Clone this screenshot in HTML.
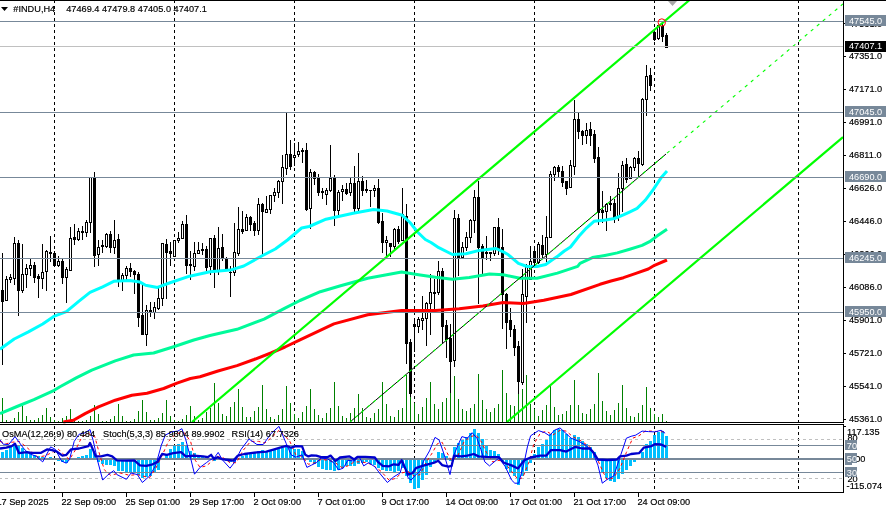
<!DOCTYPE html>
<html><head><meta charset="utf-8"><title>#INDU,H4</title>
<style>html,body{margin:0;padding:0;background:#fff;overflow:hidden}svg{display:block}</style>
</head><body>
<svg width="886" height="508" viewBox="0 0 886 508">
<rect x="0" y="0" width="886" height="508" fill="#fff"/>
<g shape-rendering="crispEdges">
<line x1="54.5" y1="0" x2="54.5" y2="422" stroke="#000" stroke-width="1" stroke-dasharray="3 3"/>
<line x1="54.5" y1="426" x2="54.5" y2="492" stroke="#000" stroke-width="1" stroke-dasharray="3 3"/>
<line x1="174.5" y1="0" x2="174.5" y2="422" stroke="#000" stroke-width="1" stroke-dasharray="3 3"/>
<line x1="174.5" y1="426" x2="174.5" y2="492" stroke="#000" stroke-width="1" stroke-dasharray="3 3"/>
<line x1="294.5" y1="0" x2="294.5" y2="422" stroke="#000" stroke-width="1" stroke-dasharray="3 3"/>
<line x1="294.5" y1="426" x2="294.5" y2="492" stroke="#000" stroke-width="1" stroke-dasharray="3 3"/>
<line x1="414.5" y1="0" x2="414.5" y2="422" stroke="#000" stroke-width="1" stroke-dasharray="3 3"/>
<line x1="414.5" y1="426" x2="414.5" y2="492" stroke="#000" stroke-width="1" stroke-dasharray="3 3"/>
<line x1="534.5" y1="0" x2="534.5" y2="422" stroke="#000" stroke-width="1" stroke-dasharray="3 3"/>
<line x1="534.5" y1="426" x2="534.5" y2="492" stroke="#000" stroke-width="1" stroke-dasharray="3 3"/>
<line x1="654.5" y1="0" x2="654.5" y2="422" stroke="#000" stroke-width="1" stroke-dasharray="3 3"/>
<line x1="654.5" y1="426" x2="654.5" y2="492" stroke="#000" stroke-width="1" stroke-dasharray="3 3"/>
<line x1="798.5" y1="0" x2="798.5" y2="422" stroke="#000" stroke-width="1" stroke-dasharray="3 3"/>
<line x1="798.5" y1="426" x2="798.5" y2="492" stroke="#000" stroke-width="1" stroke-dasharray="3 3"/>
</g>
<g shape-rendering="crispEdges">
<rect x="2" y="253" width="1" height="112" fill="#000"/>
<rect x="1" y="290" width="3" height="12" fill="#000"/>
<rect x="6" y="276" width="1" height="25" fill="#000"/>
<rect x="5" y="279" width="3" height="22" fill="#000"/>
<rect x="6" y="280" width="1" height="20" fill="#fff"/>
<rect x="10" y="274" width="1" height="9" fill="#000"/>
<rect x="9" y="277" width="3" height="3" fill="#000"/>
<rect x="10" y="278" width="1" height="1" fill="#fff"/>
<rect x="14" y="237" width="1" height="48" fill="#000"/>
<rect x="13" y="243" width="3" height="36" fill="#000"/>
<rect x="14" y="244" width="1" height="34" fill="#fff"/>
<rect x="18" y="240" width="1" height="76" fill="#000"/>
<rect x="17" y="243" width="3" height="48" fill="#000"/>
<rect x="22" y="244" width="1" height="49" fill="#000"/>
<rect x="21" y="274" width="3" height="17" fill="#000"/>
<rect x="22" y="275" width="1" height="15" fill="#fff"/>
<rect x="26" y="264" width="1" height="24" fill="#000"/>
<rect x="25" y="268" width="3" height="7" fill="#000"/>
<rect x="26" y="269" width="1" height="5" fill="#fff"/>
<rect x="30" y="259" width="1" height="17" fill="#000"/>
<rect x="29" y="265" width="3" height="4" fill="#000"/>
<rect x="30" y="266" width="1" height="2" fill="#fff"/>
<rect x="34" y="262" width="1" height="21" fill="#000"/>
<rect x="33" y="265" width="3" height="13" fill="#000"/>
<rect x="38" y="274" width="1" height="24" fill="#000"/>
<rect x="37" y="276" width="3" height="3" fill="#000"/>
<rect x="42" y="244" width="1" height="45" fill="#000"/>
<rect x="41" y="272" width="3" height="7" fill="#000"/>
<rect x="42" y="273" width="1" height="5" fill="#fff"/>
<rect x="46" y="250" width="1" height="41" fill="#000"/>
<rect x="45" y="251" width="3" height="21" fill="#000"/>
<rect x="46" y="252" width="1" height="19" fill="#fff"/>
<rect x="50" y="236" width="1" height="26" fill="#000"/>
<rect x="49" y="252" width="3" height="2" fill="#000"/>
<rect x="54" y="251" width="1" height="16" fill="#000"/>
<rect x="53" y="253" width="3" height="13" fill="#000"/>
<rect x="58" y="256" width="1" height="11" fill="#000"/>
<rect x="57" y="261" width="3" height="5" fill="#000"/>
<rect x="58" y="262" width="1" height="3" fill="#fff"/>
<rect x="62" y="259" width="1" height="25" fill="#000"/>
<rect x="61" y="261" width="3" height="17" fill="#000"/>
<rect x="66" y="267" width="1" height="36" fill="#000"/>
<rect x="65" y="269" width="3" height="9" fill="#000"/>
<rect x="66" y="270" width="1" height="7" fill="#fff"/>
<rect x="70" y="227" width="1" height="44" fill="#000"/>
<rect x="69" y="238" width="3" height="33" fill="#000"/>
<rect x="70" y="239" width="1" height="31" fill="#fff"/>
<rect x="74" y="224" width="1" height="21" fill="#000"/>
<rect x="73" y="237" width="3" height="3" fill="#000"/>
<rect x="78" y="228" width="1" height="13" fill="#000"/>
<rect x="77" y="231" width="3" height="9" fill="#000"/>
<rect x="78" y="232" width="1" height="7" fill="#fff"/>
<rect x="82" y="226" width="1" height="14" fill="#000"/>
<rect x="81" y="231" width="3" height="2" fill="#000"/>
<rect x="86" y="220" width="1" height="17" fill="#000"/>
<rect x="85" y="222" width="3" height="11" fill="#000"/>
<rect x="86" y="223" width="1" height="9" fill="#fff"/>
<rect x="90" y="177" width="1" height="56" fill="#000"/>
<rect x="89" y="177" width="3" height="46" fill="#000"/>
<rect x="90" y="178" width="1" height="44" fill="#fff"/>
<rect x="94" y="172" width="1" height="95" fill="#000"/>
<rect x="93" y="177" width="3" height="79" fill="#000"/>
<rect x="98" y="240" width="1" height="26" fill="#000"/>
<rect x="97" y="247" width="3" height="8" fill="#000"/>
<rect x="98" y="248" width="1" height="6" fill="#fff"/>
<rect x="102" y="240" width="1" height="13" fill="#000"/>
<rect x="101" y="245" width="3" height="2" fill="#000"/>
<rect x="106" y="233" width="1" height="15" fill="#000"/>
<rect x="105" y="234" width="3" height="13" fill="#000"/>
<rect x="106" y="235" width="1" height="11" fill="#fff"/>
<rect x="110" y="231" width="1" height="22" fill="#000"/>
<rect x="109" y="234" width="3" height="14" fill="#000"/>
<rect x="114" y="220" width="1" height="34" fill="#000"/>
<rect x="113" y="240" width="3" height="8" fill="#000"/>
<rect x="114" y="241" width="1" height="6" fill="#fff"/>
<rect x="118" y="234" width="1" height="53" fill="#000"/>
<rect x="117" y="239" width="3" height="42" fill="#000"/>
<rect x="122" y="273" width="1" height="18" fill="#000"/>
<rect x="121" y="275" width="3" height="6" fill="#000"/>
<rect x="122" y="276" width="1" height="4" fill="#fff"/>
<rect x="126" y="266" width="1" height="14" fill="#000"/>
<rect x="125" y="268" width="3" height="8" fill="#000"/>
<rect x="126" y="269" width="1" height="6" fill="#fff"/>
<rect x="130" y="263" width="1" height="14" fill="#000"/>
<rect x="129" y="268" width="3" height="4" fill="#000"/>
<rect x="134" y="270" width="1" height="24" fill="#000"/>
<rect x="133" y="271" width="3" height="4" fill="#000"/>
<rect x="138" y="272" width="1" height="55" fill="#000"/>
<rect x="137" y="274" width="3" height="44" fill="#000"/>
<rect x="142" y="285" width="1" height="50" fill="#000"/>
<rect x="141" y="315" width="3" height="20" fill="#000"/>
<rect x="146" y="305" width="1" height="41" fill="#000"/>
<rect x="145" y="310" width="3" height="25" fill="#000"/>
<rect x="146" y="311" width="1" height="23" fill="#fff"/>
<rect x="150" y="302" width="1" height="15" fill="#000"/>
<rect x="149" y="310" width="3" height="3" fill="#000"/>
<rect x="154" y="302" width="1" height="17" fill="#000"/>
<rect x="153" y="307" width="3" height="6" fill="#000"/>
<rect x="154" y="308" width="1" height="4" fill="#fff"/>
<rect x="158" y="288" width="1" height="22" fill="#000"/>
<rect x="157" y="298" width="3" height="11" fill="#000"/>
<rect x="158" y="299" width="1" height="9" fill="#fff"/>
<rect x="162" y="243" width="1" height="63" fill="#000"/>
<rect x="161" y="243" width="3" height="56" fill="#000"/>
<rect x="162" y="244" width="1" height="54" fill="#fff"/>
<rect x="166" y="239" width="1" height="60" fill="#000"/>
<rect x="165" y="244" width="3" height="9" fill="#000"/>
<rect x="170" y="242" width="1" height="24" fill="#000"/>
<rect x="169" y="251" width="3" height="3" fill="#000"/>
<rect x="174" y="240" width="1" height="17" fill="#000"/>
<rect x="173" y="240" width="3" height="17" fill="#000"/>
<rect x="174" y="241" width="1" height="15" fill="#fff"/>
<rect x="178" y="232" width="1" height="11" fill="#000"/>
<rect x="177" y="238" width="3" height="3" fill="#000"/>
<rect x="178" y="239" width="1" height="1" fill="#fff"/>
<rect x="182" y="221" width="1" height="18" fill="#000"/>
<rect x="181" y="224" width="3" height="15" fill="#000"/>
<rect x="182" y="225" width="1" height="13" fill="#fff"/>
<rect x="186" y="215" width="1" height="59" fill="#000"/>
<rect x="185" y="224" width="3" height="42" fill="#000"/>
<rect x="190" y="251" width="1" height="29" fill="#000"/>
<rect x="189" y="264" width="3" height="2" fill="#000"/>
<rect x="194" y="242" width="1" height="29" fill="#000"/>
<rect x="193" y="253" width="3" height="14" fill="#000"/>
<rect x="194" y="254" width="1" height="12" fill="#fff"/>
<rect x="198" y="242" width="1" height="12" fill="#000"/>
<rect x="197" y="250" width="3" height="4" fill="#000"/>
<rect x="198" y="251" width="1" height="2" fill="#fff"/>
<rect x="202" y="243" width="1" height="12" fill="#000"/>
<rect x="201" y="249" width="3" height="2" fill="#000"/>
<rect x="206" y="246" width="1" height="25" fill="#000"/>
<rect x="205" y="249" width="3" height="19" fill="#000"/>
<rect x="210" y="238" width="1" height="37" fill="#000"/>
<rect x="209" y="238" width="3" height="29" fill="#000"/>
<rect x="210" y="239" width="1" height="27" fill="#fff"/>
<rect x="214" y="235" width="1" height="53" fill="#000"/>
<rect x="213" y="238" width="3" height="33" fill="#000"/>
<rect x="218" y="227" width="1" height="48" fill="#000"/>
<rect x="217" y="248" width="3" height="23" fill="#000"/>
<rect x="218" y="249" width="1" height="21" fill="#fff"/>
<rect x="222" y="234" width="1" height="27" fill="#000"/>
<rect x="221" y="247" width="3" height="12" fill="#000"/>
<rect x="226" y="257" width="1" height="13" fill="#000"/>
<rect x="225" y="258" width="3" height="12" fill="#000"/>
<rect x="230" y="266" width="1" height="31" fill="#000"/>
<rect x="229" y="272" width="3" height="1" fill="#000"/>
<rect x="234" y="223" width="1" height="53" fill="#000"/>
<rect x="233" y="252" width="3" height="21" fill="#000"/>
<rect x="234" y="253" width="1" height="19" fill="#fff"/>
<rect x="238" y="207" width="1" height="49" fill="#000"/>
<rect x="237" y="229" width="3" height="25" fill="#000"/>
<rect x="238" y="230" width="1" height="23" fill="#fff"/>
<rect x="242" y="211" width="1" height="23" fill="#000"/>
<rect x="241" y="229" width="3" height="3" fill="#000"/>
<rect x="246" y="214" width="1" height="17" fill="#000"/>
<rect x="245" y="217" width="3" height="14" fill="#000"/>
<rect x="246" y="218" width="1" height="12" fill="#fff"/>
<rect x="250" y="216" width="1" height="15" fill="#000"/>
<rect x="249" y="217" width="3" height="8" fill="#000"/>
<rect x="254" y="221" width="1" height="15" fill="#000"/>
<rect x="253" y="223" width="3" height="8" fill="#000"/>
<rect x="258" y="198" width="1" height="37" fill="#000"/>
<rect x="257" y="204" width="3" height="27" fill="#000"/>
<rect x="258" y="205" width="1" height="25" fill="#fff"/>
<rect x="262" y="203" width="1" height="53" fill="#000"/>
<rect x="261" y="204" width="3" height="8" fill="#000"/>
<rect x="266" y="196" width="1" height="17" fill="#000"/>
<rect x="265" y="209" width="3" height="4" fill="#000"/>
<rect x="266" y="210" width="1" height="2" fill="#fff"/>
<rect x="270" y="195" width="1" height="19" fill="#000"/>
<rect x="269" y="195" width="3" height="15" fill="#000"/>
<rect x="270" y="196" width="1" height="13" fill="#fff"/>
<rect x="274" y="188" width="1" height="14" fill="#000"/>
<rect x="273" y="192" width="3" height="4" fill="#000"/>
<rect x="274" y="193" width="1" height="2" fill="#fff"/>
<rect x="278" y="180" width="1" height="18" fill="#000"/>
<rect x="277" y="181" width="3" height="12" fill="#000"/>
<rect x="278" y="182" width="1" height="10" fill="#fff"/>
<rect x="282" y="155" width="1" height="49" fill="#000"/>
<rect x="281" y="167" width="3" height="15" fill="#000"/>
<rect x="282" y="168" width="1" height="13" fill="#fff"/>
<rect x="286" y="113" width="1" height="62" fill="#000"/>
<rect x="285" y="154" width="3" height="15" fill="#000"/>
<rect x="286" y="155" width="1" height="13" fill="#fff"/>
<rect x="290" y="140" width="1" height="30" fill="#000"/>
<rect x="289" y="154" width="3" height="13" fill="#000"/>
<rect x="294" y="143" width="1" height="23" fill="#000"/>
<rect x="293" y="155" width="3" height="3" fill="#000"/>
<rect x="294" y="156" width="1" height="1" fill="#fff"/>
<rect x="298" y="142" width="1" height="15" fill="#000"/>
<rect x="297" y="151" width="3" height="4" fill="#000"/>
<rect x="298" y="152" width="1" height="2" fill="#fff"/>
<rect x="302" y="148" width="1" height="15" fill="#000"/>
<rect x="301" y="150" width="3" height="2" fill="#000"/>
<rect x="306" y="143" width="1" height="68" fill="#000"/>
<rect x="305" y="150" width="3" height="60" fill="#000"/>
<rect x="310" y="169" width="1" height="60" fill="#000"/>
<rect x="309" y="172" width="3" height="37" fill="#000"/>
<rect x="310" y="173" width="1" height="35" fill="#fff"/>
<rect x="314" y="171" width="1" height="14" fill="#000"/>
<rect x="313" y="172" width="3" height="7" fill="#000"/>
<rect x="318" y="174" width="1" height="22" fill="#000"/>
<rect x="317" y="178" width="3" height="15" fill="#000"/>
<rect x="322" y="188" width="1" height="11" fill="#000"/>
<rect x="321" y="191" width="3" height="2" fill="#000"/>
<rect x="326" y="188" width="1" height="17" fill="#000"/>
<rect x="325" y="190" width="3" height="5" fill="#000"/>
<rect x="326" y="191" width="1" height="3" fill="#fff"/>
<rect x="330" y="145" width="1" height="47" fill="#000"/>
<rect x="329" y="178" width="3" height="13" fill="#000"/>
<rect x="330" y="179" width="1" height="11" fill="#fff"/>
<rect x="334" y="175" width="1" height="51" fill="#000"/>
<rect x="333" y="178" width="3" height="33" fill="#000"/>
<rect x="338" y="190" width="1" height="27" fill="#000"/>
<rect x="337" y="192" width="3" height="19" fill="#000"/>
<rect x="338" y="193" width="1" height="17" fill="#fff"/>
<rect x="342" y="185" width="1" height="16" fill="#000"/>
<rect x="341" y="189" width="3" height="3" fill="#000"/>
<rect x="342" y="190" width="1" height="1" fill="#fff"/>
<rect x="346" y="183" width="1" height="12" fill="#000"/>
<rect x="345" y="189" width="3" height="5" fill="#000"/>
<rect x="350" y="178" width="1" height="18" fill="#000"/>
<rect x="349" y="183" width="3" height="10" fill="#000"/>
<rect x="350" y="184" width="1" height="8" fill="#fff"/>
<rect x="354" y="166" width="1" height="46" fill="#000"/>
<rect x="353" y="183" width="3" height="26" fill="#000"/>
<rect x="358" y="153" width="1" height="58" fill="#000"/>
<rect x="357" y="181" width="3" height="28" fill="#000"/>
<rect x="358" y="182" width="1" height="26" fill="#fff"/>
<rect x="362" y="176" width="1" height="20" fill="#000"/>
<rect x="361" y="181" width="3" height="10" fill="#000"/>
<rect x="366" y="180" width="1" height="13" fill="#000"/>
<rect x="365" y="189" width="3" height="2" fill="#000"/>
<rect x="370" y="190" width="1" height="17" fill="#000"/>
<rect x="369" y="190" width="3" height="1" fill="#000"/>
<rect x="374" y="185" width="1" height="12" fill="#000"/>
<rect x="373" y="188" width="3" height="3" fill="#000"/>
<rect x="374" y="189" width="1" height="1" fill="#fff"/>
<rect x="378" y="179" width="1" height="45" fill="#000"/>
<rect x="377" y="188" width="3" height="35" fill="#000"/>
<rect x="382" y="213" width="1" height="40" fill="#000"/>
<rect x="381" y="221" width="3" height="22" fill="#000"/>
<rect x="386" y="236" width="1" height="23" fill="#000"/>
<rect x="385" y="240" width="3" height="3" fill="#000"/>
<rect x="386" y="241" width="1" height="1" fill="#fff"/>
<rect x="390" y="243" width="1" height="14" fill="#000"/>
<rect x="389" y="243" width="3" height="4" fill="#000"/>
<rect x="394" y="228" width="1" height="23" fill="#000"/>
<rect x="393" y="229" width="3" height="18" fill="#000"/>
<rect x="394" y="230" width="1" height="16" fill="#fff"/>
<rect x="398" y="226" width="1" height="18" fill="#000"/>
<rect x="397" y="229" width="3" height="13" fill="#000"/>
<rect x="402" y="188" width="1" height="53" fill="#000"/>
<rect x="401" y="214" width="3" height="27" fill="#000"/>
<rect x="402" y="215" width="1" height="25" fill="#fff"/>
<rect x="406" y="204" width="1" height="160" fill="#000"/>
<rect x="405" y="216" width="3" height="128" fill="#000"/>
<rect x="410" y="339" width="1" height="60" fill="#000"/>
<rect x="409" y="342" width="3" height="52" fill="#000"/>
<rect x="414" y="319" width="1" height="33" fill="#000"/>
<rect x="413" y="324" width="3" height="3" fill="#000"/>
<rect x="418" y="317" width="1" height="16" fill="#000"/>
<rect x="417" y="319" width="3" height="8" fill="#000"/>
<rect x="418" y="320" width="1" height="6" fill="#fff"/>
<rect x="422" y="296" width="1" height="34" fill="#000"/>
<rect x="421" y="318" width="3" height="3" fill="#000"/>
<rect x="422" y="319" width="1" height="1" fill="#fff"/>
<rect x="426" y="302" width="1" height="44" fill="#000"/>
<rect x="425" y="303" width="3" height="16" fill="#000"/>
<rect x="426" y="304" width="1" height="14" fill="#fff"/>
<rect x="430" y="274" width="1" height="61" fill="#000"/>
<rect x="429" y="292" width="3" height="12" fill="#000"/>
<rect x="430" y="293" width="1" height="10" fill="#fff"/>
<rect x="434" y="279" width="1" height="32" fill="#000"/>
<rect x="433" y="292" width="3" height="2" fill="#000"/>
<rect x="438" y="261" width="1" height="34" fill="#000"/>
<rect x="437" y="271" width="3" height="22" fill="#000"/>
<rect x="438" y="272" width="1" height="20" fill="#fff"/>
<rect x="442" y="268" width="1" height="75" fill="#000"/>
<rect x="441" y="271" width="3" height="56" fill="#000"/>
<rect x="446" y="320" width="1" height="38" fill="#000"/>
<rect x="445" y="325" width="3" height="15" fill="#000"/>
<rect x="450" y="324" width="1" height="70" fill="#000"/>
<rect x="449" y="338" width="3" height="24" fill="#000"/>
<rect x="454" y="210" width="1" height="157" fill="#000"/>
<rect x="453" y="218" width="3" height="143" fill="#000"/>
<rect x="454" y="219" width="1" height="141" fill="#fff"/>
<rect x="458" y="214" width="1" height="62" fill="#000"/>
<rect x="457" y="218" width="3" height="40" fill="#000"/>
<rect x="462" y="242" width="1" height="16" fill="#000"/>
<rect x="461" y="247" width="3" height="11" fill="#000"/>
<rect x="462" y="248" width="1" height="9" fill="#fff"/>
<rect x="466" y="232" width="1" height="19" fill="#000"/>
<rect x="465" y="237" width="3" height="11" fill="#000"/>
<rect x="466" y="238" width="1" height="9" fill="#fff"/>
<rect x="470" y="219" width="1" height="24" fill="#000"/>
<rect x="469" y="220" width="3" height="18" fill="#000"/>
<rect x="470" y="221" width="1" height="16" fill="#fff"/>
<rect x="474" y="190" width="1" height="43" fill="#000"/>
<rect x="473" y="197" width="3" height="24" fill="#000"/>
<rect x="474" y="198" width="1" height="22" fill="#fff"/>
<rect x="478" y="181" width="1" height="123" fill="#000"/>
<rect x="477" y="197" width="3" height="51" fill="#000"/>
<rect x="482" y="244" width="1" height="30" fill="#000"/>
<rect x="481" y="246" width="3" height="13" fill="#000"/>
<rect x="486" y="236" width="1" height="24" fill="#000"/>
<rect x="485" y="252" width="3" height="2" fill="#000"/>
<rect x="490" y="252" width="1" height="9" fill="#000"/>
<rect x="489" y="252" width="3" height="2" fill="#000"/>
<rect x="494" y="227" width="1" height="29" fill="#000"/>
<rect x="493" y="227" width="3" height="27" fill="#000"/>
<rect x="494" y="228" width="1" height="25" fill="#fff"/>
<rect x="498" y="218" width="1" height="37" fill="#000"/>
<rect x="497" y="227" width="3" height="22" fill="#000"/>
<rect x="502" y="229" width="1" height="100" fill="#000"/>
<rect x="501" y="247" width="3" height="48" fill="#000"/>
<rect x="506" y="293" width="1" height="56" fill="#000"/>
<rect x="505" y="294" width="3" height="29" fill="#000"/>
<rect x="510" y="308" width="1" height="29" fill="#000"/>
<rect x="509" y="320" width="3" height="10" fill="#000"/>
<rect x="514" y="325" width="1" height="31" fill="#000"/>
<rect x="513" y="329" width="3" height="19" fill="#000"/>
<rect x="518" y="341" width="1" height="53" fill="#000"/>
<rect x="517" y="346" width="3" height="36" fill="#000"/>
<rect x="522" y="269" width="1" height="116" fill="#000"/>
<rect x="521" y="294" width="3" height="89" fill="#000"/>
<rect x="522" y="295" width="1" height="87" fill="#fff"/>
<rect x="526" y="264" width="1" height="59" fill="#000"/>
<rect x="525" y="265" width="3" height="32" fill="#000"/>
<rect x="526" y="266" width="1" height="30" fill="#fff"/>
<rect x="530" y="246" width="1" height="34" fill="#000"/>
<rect x="529" y="261" width="3" height="19" fill="#000"/>
<rect x="530" y="262" width="1" height="17" fill="#fff"/>
<rect x="534" y="246" width="1" height="19" fill="#000"/>
<rect x="533" y="251" width="3" height="12" fill="#000"/>
<rect x="538" y="242" width="1" height="22" fill="#000"/>
<rect x="537" y="244" width="3" height="19" fill="#000"/>
<rect x="538" y="245" width="1" height="17" fill="#fff"/>
<rect x="542" y="235" width="1" height="24" fill="#000"/>
<rect x="541" y="245" width="3" height="10" fill="#000"/>
<rect x="546" y="216" width="1" height="46" fill="#000"/>
<rect x="545" y="237" width="3" height="18" fill="#000"/>
<rect x="546" y="238" width="1" height="16" fill="#fff"/>
<rect x="550" y="171" width="1" height="67" fill="#000"/>
<rect x="549" y="174" width="3" height="64" fill="#000"/>
<rect x="550" y="175" width="1" height="62" fill="#fff"/>
<rect x="554" y="166" width="1" height="15" fill="#000"/>
<rect x="553" y="167" width="3" height="8" fill="#000"/>
<rect x="554" y="168" width="1" height="6" fill="#fff"/>
<rect x="558" y="165" width="1" height="12" fill="#000"/>
<rect x="557" y="167" width="3" height="5" fill="#000"/>
<rect x="562" y="166" width="1" height="21" fill="#000"/>
<rect x="561" y="171" width="3" height="12" fill="#000"/>
<rect x="566" y="181" width="1" height="14" fill="#000"/>
<rect x="565" y="181" width="3" height="8" fill="#000"/>
<rect x="570" y="160" width="1" height="28" fill="#000"/>
<rect x="569" y="165" width="3" height="23" fill="#000"/>
<rect x="570" y="166" width="1" height="21" fill="#fff"/>
<rect x="574" y="100" width="1" height="75" fill="#000"/>
<rect x="573" y="119" width="3" height="48" fill="#000"/>
<rect x="574" y="120" width="1" height="46" fill="#fff"/>
<rect x="578" y="113" width="1" height="26" fill="#000"/>
<rect x="577" y="119" width="3" height="13" fill="#000"/>
<rect x="582" y="130" width="1" height="15" fill="#000"/>
<rect x="581" y="131" width="3" height="5" fill="#000"/>
<rect x="586" y="123" width="1" height="21" fill="#000"/>
<rect x="585" y="130" width="3" height="6" fill="#000"/>
<rect x="586" y="131" width="1" height="4" fill="#fff"/>
<rect x="590" y="122" width="1" height="24" fill="#000"/>
<rect x="589" y="129" width="3" height="7" fill="#000"/>
<rect x="594" y="130" width="1" height="33" fill="#000"/>
<rect x="593" y="134" width="3" height="25" fill="#000"/>
<rect x="598" y="147" width="1" height="78" fill="#000"/>
<rect x="597" y="157" width="3" height="56" fill="#000"/>
<rect x="602" y="191" width="1" height="32" fill="#000"/>
<rect x="601" y="210" width="3" height="3" fill="#000"/>
<rect x="606" y="203" width="1" height="28" fill="#000"/>
<rect x="605" y="204" width="3" height="8" fill="#000"/>
<rect x="606" y="205" width="1" height="6" fill="#fff"/>
<rect x="610" y="196" width="1" height="15" fill="#000"/>
<rect x="609" y="203" width="3" height="2" fill="#000"/>
<rect x="614" y="199" width="1" height="24" fill="#000"/>
<rect x="613" y="203" width="3" height="15" fill="#000"/>
<rect x="618" y="173" width="1" height="48" fill="#000"/>
<rect x="617" y="188" width="3" height="30" fill="#000"/>
<rect x="618" y="189" width="1" height="28" fill="#fff"/>
<rect x="622" y="161" width="1" height="51" fill="#000"/>
<rect x="621" y="165" width="3" height="24" fill="#000"/>
<rect x="622" y="166" width="1" height="22" fill="#fff"/>
<rect x="626" y="158" width="1" height="25" fill="#000"/>
<rect x="625" y="164" width="3" height="16" fill="#000"/>
<rect x="630" y="166" width="1" height="13" fill="#000"/>
<rect x="629" y="167" width="3" height="12" fill="#000"/>
<rect x="630" y="168" width="1" height="10" fill="#fff"/>
<rect x="634" y="157" width="1" height="14" fill="#000"/>
<rect x="633" y="158" width="3" height="10" fill="#000"/>
<rect x="634" y="159" width="1" height="8" fill="#fff"/>
<rect x="638" y="151" width="1" height="26" fill="#000"/>
<rect x="637" y="158" width="3" height="6" fill="#000"/>
<rect x="642" y="98" width="1" height="68" fill="#000"/>
<rect x="641" y="99" width="3" height="66" fill="#000"/>
<rect x="642" y="100" width="1" height="64" fill="#fff"/>
<rect x="646" y="65" width="1" height="51" fill="#000"/>
<rect x="645" y="76" width="3" height="24" fill="#000"/>
<rect x="646" y="77" width="1" height="22" fill="#fff"/>
<rect x="650" y="68" width="1" height="23" fill="#000"/>
<rect x="649" y="75" width="3" height="11" fill="#000"/>
<rect x="654" y="29" width="1" height="12" fill="#000"/>
<rect x="653" y="32" width="3" height="8" fill="#000"/>
<rect x="658" y="25" width="1" height="15" fill="#000"/>
<rect x="657" y="25" width="3" height="14" fill="#000"/>
<rect x="658" y="26" width="1" height="12" fill="#fff"/>
<rect x="662" y="22" width="1" height="20" fill="#000"/>
<rect x="661" y="26" width="3" height="11" fill="#000"/>
<rect x="666" y="33" width="1" height="15" fill="#000"/>
<rect x="665" y="35" width="3" height="13" fill="#000"/>
</g>
<g shape-rendering="crispEdges">
<rect x="2" y="398" width="1" height="24" fill="#008000"/>
<rect x="6" y="420" width="1" height="2" fill="#008000"/>
<rect x="10" y="421" width="1" height="1" fill="#008000"/>
<rect x="14" y="418" width="1" height="4" fill="#008000"/>
<rect x="18" y="412" width="1" height="10" fill="#008000"/>
<rect x="22" y="406" width="1" height="16" fill="#008000"/>
<rect x="26" y="416" width="1" height="6" fill="#008000"/>
<rect x="30" y="420" width="1" height="2" fill="#008000"/>
<rect x="34" y="420" width="1" height="2" fill="#008000"/>
<rect x="38" y="418" width="1" height="4" fill="#008000"/>
<rect x="42" y="415" width="1" height="7" fill="#008000"/>
<rect x="46" y="408" width="1" height="14" fill="#008000"/>
<rect x="50" y="417" width="1" height="5" fill="#008000"/>
<rect x="54" y="420" width="1" height="2" fill="#008000"/>
<rect x="58" y="421" width="1" height="1" fill="#008000"/>
<rect x="62" y="418" width="1" height="4" fill="#008000"/>
<rect x="66" y="416" width="1" height="6" fill="#008000"/>
<rect x="70" y="409" width="1" height="13" fill="#008000"/>
<rect x="74" y="420" width="1" height="2" fill="#008000"/>
<rect x="78" y="421" width="1" height="1" fill="#008000"/>
<rect x="82" y="421" width="1" height="1" fill="#008000"/>
<rect x="86" y="420" width="1" height="2" fill="#008000"/>
<rect x="90" y="416" width="1" height="6" fill="#008000"/>
<rect x="94" y="405" width="1" height="17" fill="#008000"/>
<rect x="98" y="414" width="1" height="8" fill="#008000"/>
<rect x="102" y="421" width="1" height="1" fill="#008000"/>
<rect x="106" y="421" width="1" height="1" fill="#008000"/>
<rect x="110" y="419" width="1" height="3" fill="#008000"/>
<rect x="114" y="416" width="1" height="6" fill="#008000"/>
<rect x="118" y="404" width="1" height="18" fill="#008000"/>
<rect x="122" y="416" width="1" height="6" fill="#008000"/>
<rect x="126" y="421" width="1" height="1" fill="#008000"/>
<rect x="130" y="421" width="1" height="1" fill="#008000"/>
<rect x="134" y="419" width="1" height="3" fill="#008000"/>
<rect x="138" y="411" width="1" height="11" fill="#008000"/>
<rect x="142" y="400" width="1" height="22" fill="#008000"/>
<rect x="146" y="412" width="1" height="10" fill="#008000"/>
<rect x="150" y="420" width="1" height="2" fill="#008000"/>
<rect x="154" y="420" width="1" height="2" fill="#008000"/>
<rect x="158" y="418" width="1" height="4" fill="#008000"/>
<rect x="162" y="413" width="1" height="9" fill="#008000"/>
<rect x="166" y="400" width="1" height="22" fill="#008000"/>
<rect x="170" y="416" width="1" height="6" fill="#008000"/>
<rect x="174" y="420" width="1" height="2" fill="#008000"/>
<rect x="178" y="421" width="1" height="1" fill="#008000"/>
<rect x="182" y="419" width="1" height="3" fill="#008000"/>
<rect x="186" y="415" width="1" height="7" fill="#008000"/>
<rect x="190" y="406" width="1" height="16" fill="#008000"/>
<rect x="194" y="416" width="1" height="6" fill="#008000"/>
<rect x="198" y="420" width="1" height="2" fill="#008000"/>
<rect x="202" y="418" width="1" height="4" fill="#008000"/>
<rect x="206" y="412" width="1" height="10" fill="#008000"/>
<rect x="210" y="408" width="1" height="14" fill="#008000"/>
<rect x="214" y="383" width="1" height="39" fill="#008000"/>
<rect x="218" y="403" width="1" height="19" fill="#008000"/>
<rect x="222" y="414" width="1" height="8" fill="#008000"/>
<rect x="226" y="416" width="1" height="6" fill="#008000"/>
<rect x="230" y="407" width="1" height="15" fill="#008000"/>
<rect x="234" y="402" width="1" height="20" fill="#008000"/>
<rect x="238" y="389" width="1" height="33" fill="#008000"/>
<rect x="242" y="407" width="1" height="15" fill="#008000"/>
<rect x="246" y="417" width="1" height="5" fill="#008000"/>
<rect x="250" y="417" width="1" height="5" fill="#008000"/>
<rect x="254" y="411" width="1" height="11" fill="#008000"/>
<rect x="258" y="407" width="1" height="15" fill="#008000"/>
<rect x="262" y="385" width="1" height="37" fill="#008000"/>
<rect x="266" y="409" width="1" height="13" fill="#008000"/>
<rect x="270" y="417" width="1" height="5" fill="#008000"/>
<rect x="274" y="419" width="1" height="3" fill="#008000"/>
<rect x="278" y="415" width="1" height="7" fill="#008000"/>
<rect x="282" y="409" width="1" height="13" fill="#008000"/>
<rect x="286" y="386" width="1" height="36" fill="#008000"/>
<rect x="290" y="403" width="1" height="19" fill="#008000"/>
<rect x="294" y="414" width="1" height="8" fill="#008000"/>
<rect x="298" y="418" width="1" height="4" fill="#008000"/>
<rect x="302" y="412" width="1" height="10" fill="#008000"/>
<rect x="306" y="406" width="1" height="16" fill="#008000"/>
<rect x="310" y="389" width="1" height="33" fill="#008000"/>
<rect x="314" y="409" width="1" height="13" fill="#008000"/>
<rect x="318" y="415" width="1" height="7" fill="#008000"/>
<rect x="322" y="418" width="1" height="4" fill="#008000"/>
<rect x="326" y="413" width="1" height="9" fill="#008000"/>
<rect x="330" y="408" width="1" height="14" fill="#008000"/>
<rect x="334" y="382" width="1" height="40" fill="#008000"/>
<rect x="338" y="406" width="1" height="16" fill="#008000"/>
<rect x="342" y="416" width="1" height="6" fill="#008000"/>
<rect x="346" y="418" width="1" height="4" fill="#008000"/>
<rect x="350" y="413" width="1" height="9" fill="#008000"/>
<rect x="354" y="408" width="1" height="14" fill="#008000"/>
<rect x="358" y="394" width="1" height="28" fill="#008000"/>
<rect x="362" y="408" width="1" height="14" fill="#008000"/>
<rect x="366" y="417" width="1" height="5" fill="#008000"/>
<rect x="370" y="418" width="1" height="4" fill="#008000"/>
<rect x="374" y="413" width="1" height="9" fill="#008000"/>
<rect x="378" y="409" width="1" height="13" fill="#008000"/>
<rect x="382" y="382" width="1" height="40" fill="#008000"/>
<rect x="386" y="404" width="1" height="18" fill="#008000"/>
<rect x="390" y="416" width="1" height="6" fill="#008000"/>
<rect x="394" y="417" width="1" height="5" fill="#008000"/>
<rect x="398" y="410" width="1" height="12" fill="#008000"/>
<rect x="402" y="408" width="1" height="14" fill="#008000"/>
<rect x="406" y="375" width="1" height="47" fill="#008000"/>
<rect x="410" y="397" width="1" height="25" fill="#008000"/>
<rect x="414" y="403" width="1" height="19" fill="#008000"/>
<rect x="418" y="414" width="1" height="8" fill="#008000"/>
<rect x="422" y="407" width="1" height="15" fill="#008000"/>
<rect x="426" y="398" width="1" height="24" fill="#008000"/>
<rect x="430" y="382" width="1" height="40" fill="#008000"/>
<rect x="434" y="404" width="1" height="18" fill="#008000"/>
<rect x="438" y="409" width="1" height="13" fill="#008000"/>
<rect x="442" y="402" width="1" height="20" fill="#008000"/>
<rect x="446" y="398" width="1" height="24" fill="#008000"/>
<rect x="450" y="393" width="1" height="29" fill="#008000"/>
<rect x="454" y="376" width="1" height="46" fill="#008000"/>
<rect x="458" y="399" width="1" height="23" fill="#008000"/>
<rect x="462" y="409" width="1" height="13" fill="#008000"/>
<rect x="466" y="411" width="1" height="11" fill="#008000"/>
<rect x="470" y="408" width="1" height="14" fill="#008000"/>
<rect x="474" y="404" width="1" height="18" fill="#008000"/>
<rect x="478" y="374" width="1" height="48" fill="#008000"/>
<rect x="482" y="400" width="1" height="22" fill="#008000"/>
<rect x="486" y="409" width="1" height="13" fill="#008000"/>
<rect x="490" y="412" width="1" height="10" fill="#008000"/>
<rect x="494" y="408" width="1" height="14" fill="#008000"/>
<rect x="498" y="404" width="1" height="18" fill="#008000"/>
<rect x="502" y="370" width="1" height="52" fill="#008000"/>
<rect x="506" y="393" width="1" height="29" fill="#008000"/>
<rect x="510" y="405" width="1" height="17" fill="#008000"/>
<rect x="514" y="406" width="1" height="16" fill="#008000"/>
<rect x="518" y="394" width="1" height="28" fill="#008000"/>
<rect x="522" y="389" width="1" height="33" fill="#008000"/>
<rect x="526" y="375" width="1" height="47" fill="#008000"/>
<rect x="530" y="404" width="1" height="18" fill="#008000"/>
<rect x="534" y="409" width="1" height="13" fill="#008000"/>
<rect x="538" y="416" width="1" height="6" fill="#008000"/>
<rect x="542" y="410" width="1" height="12" fill="#008000"/>
<rect x="546" y="405" width="1" height="17" fill="#008000"/>
<rect x="550" y="386" width="1" height="36" fill="#008000"/>
<rect x="554" y="407" width="1" height="15" fill="#008000"/>
<rect x="558" y="415" width="1" height="7" fill="#008000"/>
<rect x="562" y="414" width="1" height="8" fill="#008000"/>
<rect x="566" y="411" width="1" height="11" fill="#008000"/>
<rect x="570" y="405" width="1" height="17" fill="#008000"/>
<rect x="574" y="380" width="1" height="42" fill="#008000"/>
<rect x="578" y="405" width="1" height="17" fill="#008000"/>
<rect x="582" y="413" width="1" height="9" fill="#008000"/>
<rect x="586" y="414" width="1" height="8" fill="#008000"/>
<rect x="590" y="409" width="1" height="13" fill="#008000"/>
<rect x="594" y="404" width="1" height="18" fill="#008000"/>
<rect x="598" y="373" width="1" height="49" fill="#008000"/>
<rect x="602" y="401" width="1" height="21" fill="#008000"/>
<rect x="606" y="411" width="1" height="11" fill="#008000"/>
<rect x="610" y="415" width="1" height="7" fill="#008000"/>
<rect x="614" y="410" width="1" height="12" fill="#008000"/>
<rect x="618" y="403" width="1" height="19" fill="#008000"/>
<rect x="622" y="385" width="1" height="37" fill="#008000"/>
<rect x="626" y="408" width="1" height="14" fill="#008000"/>
<rect x="630" y="416" width="1" height="6" fill="#008000"/>
<rect x="634" y="417" width="1" height="5" fill="#008000"/>
<rect x="638" y="413" width="1" height="9" fill="#008000"/>
<rect x="642" y="405" width="1" height="17" fill="#008000"/>
<rect x="646" y="387" width="1" height="35" fill="#008000"/>
<rect x="650" y="408" width="1" height="14" fill="#008000"/>
<rect x="654" y="414" width="1" height="8" fill="#008000"/>
<rect x="658" y="417" width="1" height="5" fill="#008000"/>
<rect x="662" y="414" width="1" height="8" fill="#008000"/>
<rect x="666" y="421" width="1" height="1" fill="#008000"/>
</g>
<polyline points="0.0,413.5 17.0,406.5 33.9,399.6 54.2,390.3 60.0,386.8 76.7,377.6 91.8,370.1 115.2,360.9 133.6,355.0 153.6,353.0 173.7,346.7 193.8,340.0 210.0,335.5 237.0,329.3 264.1,319.2 284.5,308.4 300.0,300.5 320.3,291.7 340.6,285.7 367.7,278.2 401.6,272.1 418.5,274.8 435.5,277.2 452.4,279.2 469.3,277.5 489.6,274.1 503.2,274.8 520.1,278.2 537.0,278.2 557.4,273.1 577.7,266.4 580.0,263.4 592.4,257.6 604.8,255.4 617.3,252.9 629.7,249.2 642.1,245.4 649.6,241.7 657.0,236.1 667.0,229.3" fill="none" stroke="#00FA9A" stroke-width="3" stroke-linejoin="round"/>
<polyline points="63.3,421.9 73.4,420.3 85.1,413.6 98.5,406.9 115.2,400.2 131.9,395.2 147.0,393.2 163.7,388.5 177.0,383.1 190.4,378.5 200.0,376.8 218.0,371.0 237.0,365.6 254.0,359.5 270.9,353.0 285.0,347.0 300.0,339.8 333.9,323.9 367.7,314.8 401.6,310.4 435.5,310.4 459.2,308.7 482.9,306.0 503.2,302.6 523.5,303.6 543.8,300.2 570.9,294.5 600.0,284.3 611.0,281.0 623.5,277.7 635.9,273.4 648.3,269.0 654.5,265.3 667.0,260.0" fill="none" stroke="#FF0000" stroke-width="3" stroke-linejoin="round"/>
<polyline points="0.0,349.2 14.2,339.0 28.4,331.9 42.7,324.0 53.7,316.4 66.4,311.7 79.0,301.1 90.0,292.4 102.7,286.8 113.7,281.3 129.5,280.5 140.0,282.1 145.6,285.3 157.5,287.4 169.3,283.0 189.6,276.2 210.0,271.8 230.3,270.1 243.8,266.0 261.7,256.0 275.3,249.0 287.5,240.0 301.6,228.0 309.2,226.5 326.0,219.2 353.2,213.2 373.5,209.5 387.0,211.0 402.3,215.3 410.0,222.5 417.5,232.0 425.3,239.5 431.0,242.5 438.8,247.7 452.4,254.5 465.9,253.8 479.5,250.4 496.0,248.5 503.2,251.8 508.4,254.8 518.4,263.4 527.0,266.5 537.0,266.5 545.7,264.5 552.0,260.0 558.0,256.0 564.3,251.0 570.5,247.0 579.1,236.0 586.4,228.1 594.0,221.3 605.6,219.9 614.5,218.5 623.4,214.8 630.0,211.8 637.1,208.4 645.2,200.3 653.4,189.4 661.5,177.2 667.0,171.1" fill="none" stroke="#00FFFF" stroke-width="3" stroke-linejoin="round"/>
<line x1="192" y1="422" x2="689.6" y2="0" stroke="#00FF00" stroke-width="2.2"/>
<line x1="507" y1="422" x2="843" y2="137.1" stroke="#00FF00" stroke-width="2.2"/>
<line x1="350" y1="422" x2="666" y2="154.0" stroke="#000" stroke-width="1"/>
<line x1="350" y1="422" x2="843" y2="3.9" stroke="#00FF00" stroke-width="1.1" stroke-dasharray="3.3 4.56" stroke-dashoffset="1.0"/>
<g shape-rendering="crispEdges">
<line x1="0" y1="21.5" x2="843" y2="21.5" stroke="#778899" stroke-width="1"/>
<line x1="0" y1="112.5" x2="843" y2="112.5" stroke="#778899" stroke-width="1"/>
<line x1="0" y1="177.5" x2="843" y2="177.5" stroke="#778899" stroke-width="1"/>
<line x1="0" y1="258.5" x2="843" y2="258.5" stroke="#778899" stroke-width="1"/>
<line x1="0" y1="312.5" x2="843" y2="312.5" stroke="#778899" stroke-width="1"/>
<line x1="0" y1="46.5" x2="843" y2="46.5" stroke="#C0C0C0" stroke-width="1"/>
</g>
<circle cx="661.8" cy="22.5" r="3.7" fill="none" stroke="#FF0000" stroke-width="1"/>
<polygon points="668,1 677,1 672.5,6" fill="#A8A8A8"/>
<g shape-rendering="crispEdges">
<line x1="0" y1="439.5" x2="843" y2="439.5" stroke="#C0C0C0" stroke-width="1" stroke-dasharray="3 3" stroke-dashoffset="1"/>
<line x1="0" y1="478.5" x2="843" y2="478.5" stroke="#C0C0C0" stroke-width="1" stroke-dasharray="3 3" stroke-dashoffset="1"/>
<rect x="1" y="452" width="3" height="6" fill="#00BFFF"/>
<rect x="5" y="450" width="3" height="8" fill="#00BFFF"/>
<rect x="9" y="447" width="3" height="11" fill="#00BFFF"/>
<rect x="13" y="444" width="3" height="14" fill="#00BFFF"/>
<rect x="17" y="446" width="3" height="12" fill="#00BFFF"/>
<rect x="21" y="448" width="3" height="10" fill="#00BFFF"/>
<rect x="25" y="452" width="3" height="6" fill="#00BFFF"/>
<rect x="29" y="453" width="3" height="5" fill="#00BFFF"/>
<rect x="33" y="455" width="3" height="3" fill="#00BFFF"/>
<rect x="37" y="456" width="3" height="2" fill="#00BFFF"/>
<rect x="41" y="457" width="3" height="1" fill="#00BFFF"/>
<rect x="49" y="457" width="3" height="1" fill="#00BFFF"/>
<rect x="57" y="458" width="3" height="3" fill="#00BFFF"/>
<rect x="61" y="458" width="3" height="4" fill="#00BFFF"/>
<rect x="65" y="458" width="3" height="5" fill="#00BFFF"/>
<rect x="69" y="458" width="3" height="2" fill="#00BFFF"/>
<rect x="77" y="457" width="3" height="1" fill="#00BFFF"/>
<rect x="81" y="456" width="3" height="2" fill="#00BFFF"/>
<rect x="85" y="455" width="3" height="3" fill="#00BFFF"/>
<rect x="89" y="449" width="3" height="9" fill="#00BFFF"/>
<rect x="93" y="453" width="3" height="5" fill="#00BFFF"/>
<rect x="97" y="458" width="3" height="4" fill="#00BFFF"/>
<rect x="101" y="458" width="3" height="6" fill="#00BFFF"/>
<rect x="105" y="458" width="3" height="7" fill="#00BFFF"/>
<rect x="109" y="458" width="3" height="7" fill="#00BFFF"/>
<rect x="113" y="458" width="3" height="8" fill="#00BFFF"/>
<rect x="117" y="458" width="3" height="13" fill="#00BFFF"/>
<rect x="121" y="458" width="3" height="13" fill="#00BFFF"/>
<rect x="125" y="458" width="3" height="14" fill="#00BFFF"/>
<rect x="129" y="458" width="3" height="15" fill="#00BFFF"/>
<rect x="133" y="458" width="3" height="15" fill="#00BFFF"/>
<rect x="137" y="458" width="3" height="17" fill="#00BFFF"/>
<rect x="141" y="458" width="3" height="20" fill="#00BFFF"/>
<rect x="145" y="458" width="3" height="19" fill="#00BFFF"/>
<rect x="149" y="458" width="3" height="18" fill="#00BFFF"/>
<rect x="153" y="458" width="3" height="15" fill="#00BFFF"/>
<rect x="157" y="458" width="3" height="12" fill="#00BFFF"/>
<rect x="161" y="458" width="3" height="2" fill="#00BFFF"/>
<rect x="165" y="454" width="3" height="4" fill="#00BFFF"/>
<rect x="169" y="449" width="3" height="9" fill="#00BFFF"/>
<rect x="173" y="446" width="3" height="12" fill="#00BFFF"/>
<rect x="177" y="444" width="3" height="14" fill="#00BFFF"/>
<rect x="181" y="442" width="3" height="16" fill="#00BFFF"/>
<rect x="185" y="445" width="3" height="13" fill="#00BFFF"/>
<rect x="189" y="451" width="3" height="7" fill="#00BFFF"/>
<rect x="193" y="453" width="3" height="5" fill="#00BFFF"/>
<rect x="197" y="455" width="3" height="3" fill="#00BFFF"/>
<rect x="201" y="456" width="3" height="2" fill="#00BFFF"/>
<rect x="205" y="456" width="3" height="2" fill="#00BFFF"/>
<rect x="213" y="458" width="3" height="3" fill="#00BFFF"/>
<rect x="217" y="458" width="3" height="2" fill="#00BFFF"/>
<rect x="221" y="458" width="3" height="2" fill="#00BFFF"/>
<rect x="225" y="458" width="3" height="3" fill="#00BFFF"/>
<rect x="229" y="458" width="3" height="4" fill="#00BFFF"/>
<rect x="233" y="458" width="3" height="4" fill="#00BFFF"/>
<rect x="237" y="458" width="3" height="2" fill="#00BFFF"/>
<rect x="241" y="456" width="3" height="2" fill="#00BFFF"/>
<rect x="245" y="454" width="3" height="4" fill="#00BFFF"/>
<rect x="249" y="453" width="3" height="5" fill="#00BFFF"/>
<rect x="253" y="452" width="3" height="6" fill="#00BFFF"/>
<rect x="257" y="451" width="3" height="7" fill="#00BFFF"/>
<rect x="261" y="450" width="3" height="8" fill="#00BFFF"/>
<rect x="265" y="452" width="3" height="6" fill="#00BFFF"/>
<rect x="269" y="451" width="3" height="7" fill="#00BFFF"/>
<rect x="273" y="450" width="3" height="8" fill="#00BFFF"/>
<rect x="277" y="449" width="3" height="9" fill="#00BFFF"/>
<rect x="281" y="448" width="3" height="10" fill="#00BFFF"/>
<rect x="285" y="446" width="3" height="12" fill="#00BFFF"/>
<rect x="289" y="448" width="3" height="10" fill="#00BFFF"/>
<rect x="293" y="449" width="3" height="9" fill="#00BFFF"/>
<rect x="297" y="449" width="3" height="9" fill="#00BFFF"/>
<rect x="301" y="451" width="3" height="7" fill="#00BFFF"/>
<rect x="309" y="458" width="3" height="4" fill="#00BFFF"/>
<rect x="313" y="458" width="3" height="6" fill="#00BFFF"/>
<rect x="317" y="458" width="3" height="9" fill="#00BFFF"/>
<rect x="321" y="458" width="3" height="11" fill="#00BFFF"/>
<rect x="325" y="458" width="3" height="12" fill="#00BFFF"/>
<rect x="329" y="458" width="3" height="12" fill="#00BFFF"/>
<rect x="333" y="458" width="3" height="13" fill="#00BFFF"/>
<rect x="337" y="458" width="3" height="12" fill="#00BFFF"/>
<rect x="341" y="458" width="3" height="10" fill="#00BFFF"/>
<rect x="345" y="458" width="3" height="8" fill="#00BFFF"/>
<rect x="349" y="458" width="3" height="8" fill="#00BFFF"/>
<rect x="353" y="458" width="3" height="8" fill="#00BFFF"/>
<rect x="357" y="458" width="3" height="6" fill="#00BFFF"/>
<rect x="361" y="458" width="3" height="5" fill="#00BFFF"/>
<rect x="365" y="458" width="3" height="4" fill="#00BFFF"/>
<rect x="369" y="458" width="3" height="6" fill="#00BFFF"/>
<rect x="373" y="458" width="3" height="7" fill="#00BFFF"/>
<rect x="377" y="458" width="3" height="10" fill="#00BFFF"/>
<rect x="381" y="458" width="3" height="12" fill="#00BFFF"/>
<rect x="385" y="458" width="3" height="13" fill="#00BFFF"/>
<rect x="389" y="458" width="3" height="13" fill="#00BFFF"/>
<rect x="393" y="458" width="3" height="14" fill="#00BFFF"/>
<rect x="397" y="458" width="3" height="13" fill="#00BFFF"/>
<rect x="401" y="458" width="3" height="10" fill="#00BFFF"/>
<rect x="405" y="458" width="3" height="18" fill="#00BFFF"/>
<rect x="409" y="458" width="3" height="25" fill="#00BFFF"/>
<rect x="413" y="458" width="3" height="31" fill="#00BFFF"/>
<rect x="417" y="458" width="3" height="30" fill="#00BFFF"/>
<rect x="421" y="458" width="3" height="22" fill="#00BFFF"/>
<rect x="425" y="458" width="3" height="17" fill="#00BFFF"/>
<rect x="429" y="458" width="3" height="9" fill="#00BFFF"/>
<rect x="433" y="458" width="3" height="5" fill="#00BFFF"/>
<rect x="437" y="452" width="3" height="6" fill="#00BFFF"/>
<rect x="441" y="453" width="3" height="5" fill="#00BFFF"/>
<rect x="445" y="456" width="3" height="2" fill="#00BFFF"/>
<rect x="449" y="458" width="3" height="3" fill="#00BFFF"/>
<rect x="453" y="447" width="3" height="11" fill="#00BFFF"/>
<rect x="457" y="443" width="3" height="15" fill="#00BFFF"/>
<rect x="461" y="440" width="3" height="18" fill="#00BFFF"/>
<rect x="465" y="437" width="3" height="21" fill="#00BFFF"/>
<rect x="469" y="433" width="3" height="25" fill="#00BFFF"/>
<rect x="473" y="429" width="3" height="29" fill="#00BFFF"/>
<rect x="477" y="433" width="3" height="25" fill="#00BFFF"/>
<rect x="481" y="439" width="3" height="19" fill="#00BFFF"/>
<rect x="485" y="446" width="3" height="12" fill="#00BFFF"/>
<rect x="489" y="450" width="3" height="8" fill="#00BFFF"/>
<rect x="493" y="451" width="3" height="7" fill="#00BFFF"/>
<rect x="497" y="454" width="3" height="4" fill="#00BFFF"/>
<rect x="501" y="458" width="3" height="3" fill="#00BFFF"/>
<rect x="505" y="458" width="3" height="11" fill="#00BFFF"/>
<rect x="509" y="458" width="3" height="15" fill="#00BFFF"/>
<rect x="513" y="458" width="3" height="18" fill="#00BFFF"/>
<rect x="517" y="458" width="3" height="27" fill="#00BFFF"/>
<rect x="521" y="458" width="3" height="18" fill="#00BFFF"/>
<rect x="525" y="458" width="3" height="13" fill="#00BFFF"/>
<rect x="529" y="458" width="3" height="5" fill="#00BFFF"/>
<rect x="533" y="454" width="3" height="4" fill="#00BFFF"/>
<rect x="537" y="447" width="3" height="11" fill="#00BFFF"/>
<rect x="541" y="444" width="3" height="14" fill="#00BFFF"/>
<rect x="545" y="440" width="3" height="18" fill="#00BFFF"/>
<rect x="549" y="434" width="3" height="24" fill="#00BFFF"/>
<rect x="553" y="430" width="3" height="28" fill="#00BFFF"/>
<rect x="557" y="429" width="3" height="29" fill="#00BFFF"/>
<rect x="561" y="430" width="3" height="28" fill="#00BFFF"/>
<rect x="565" y="434" width="3" height="24" fill="#00BFFF"/>
<rect x="569" y="438" width="3" height="20" fill="#00BFFF"/>
<rect x="573" y="435" width="3" height="23" fill="#00BFFF"/>
<rect x="577" y="437" width="3" height="21" fill="#00BFFF"/>
<rect x="581" y="441" width="3" height="17" fill="#00BFFF"/>
<rect x="585" y="444" width="3" height="14" fill="#00BFFF"/>
<rect x="589" y="447" width="3" height="11" fill="#00BFFF"/>
<rect x="593" y="452" width="3" height="6" fill="#00BFFF"/>
<rect x="597" y="458" width="3" height="3" fill="#00BFFF"/>
<rect x="601" y="458" width="3" height="15" fill="#00BFFF"/>
<rect x="605" y="458" width="3" height="20" fill="#00BFFF"/>
<rect x="609" y="458" width="3" height="23" fill="#00BFFF"/>
<rect x="613" y="458" width="3" height="24" fill="#00BFFF"/>
<rect x="617" y="458" width="3" height="21" fill="#00BFFF"/>
<rect x="621" y="458" width="3" height="16" fill="#00BFFF"/>
<rect x="625" y="458" width="3" height="12" fill="#00BFFF"/>
<rect x="629" y="458" width="3" height="8" fill="#00BFFF"/>
<rect x="633" y="458" width="3" height="4" fill="#00BFFF"/>
<rect x="641" y="452" width="3" height="6" fill="#00BFFF"/>
<rect x="645" y="444" width="3" height="14" fill="#00BFFF"/>
<rect x="649" y="441" width="3" height="17" fill="#00BFFF"/>
<rect x="653" y="435" width="3" height="23" fill="#00BFFF"/>
<rect x="657" y="432" width="3" height="26" fill="#00BFFF"/>
<rect x="661" y="431" width="3" height="27" fill="#00BFFF"/>
<rect x="665" y="436" width="3" height="22" fill="#00BFFF"/>
<line x1="0" y1="445.5" x2="843" y2="445.5" stroke="#778899" stroke-width="1"/>
<line x1="0" y1="472.5" x2="843" y2="472.5" stroke="#778899" stroke-width="1"/>
<line x1="0" y1="458.5" x2="843" y2="458.5" stroke="#778899" stroke-width="2"/>
</g>
<polyline points="0.0,441.4 6.3,443.7 12.6,442.2 19.0,441.4 25.3,446.1 31.6,451.6 37.9,457.2 45.8,455.6 52.1,452.4 58.5,449.3 64.8,455.6 69.5,459.5 75.8,449.3 82.1,436.6 88.5,433.5 94.8,436.6 99.5,454.0 104.3,469.8 110.6,475.3 120.1,473.0 129.5,475.3 137.4,474.6 149.5,477.7 155.8,468.2 162.1,455.6 168.4,441.4 176.3,433.5 184.2,432.7 190.6,441.4 195.3,460.3 200.0,467.4 206.4,465.9 211.1,461.9 217.4,456.4 223.7,458.0 230.0,462.7 236.4,462.7 242.7,450.9 250.6,441.4 258.5,441.4 264.8,443.0 272.7,436.6 279.0,430.3 289.5,440.6 295.8,454.8 302.1,456.4 308.4,464.3 314.8,462.7 321.1,459.5 329.0,460.3 335.3,462.7 341.6,467.4 347.9,465.9 354.2,461.9 360.6,461.9 366.9,462.7 373.2,465.4 381.1,471.4 389.0,480.1 395.3,478.5 401.6,473.0 408.0,471.4 414.3,476.1 420.0,474.6 426.3,461.9 432.6,452.4 437.4,443.7 442.1,442.2 446.9,452.4 451.6,461.1 457.9,455.6 464.2,441.4 470.6,436.6 476.1,435.1 481.6,442.2 486.4,452.4 492.7,461.9 499.0,460.3 505.3,463.5 511.6,471.4 517.9,479.3 522.7,477.7 529.0,461.9 533.7,444.5 540.1,433.5 546.4,431.1 552.7,435.1 560.0,430.3 566.3,431.1 572.6,436.6 582.1,441.4 591.6,448.5 597.9,460.3 602.7,471.4 607.4,480.1 613.7,477.7 620.0,468.2 626.4,452.4 632.7,438.2 639.0,435.8 645.3,431.1 651.6,431.1 657.9,431.6 665.1,431.9" fill="none" stroke="#FF0000" stroke-width="1" stroke-dasharray="3 3"/>
<polyline points="0.0,439.8 3.2,444.2 8.7,444.5 15.0,436.6 23.7,448.5 28.4,453.2 36.3,456.4 42.7,461.9 50.6,446.9 55.3,449.3 61.6,461.1 66.4,463.2 69.5,459.5 74.2,441.4 79.0,434.3 85.3,432.7 90.0,429.5 93.2,440.6 97.9,461.9 102.7,480.1 107.4,475.3 113.7,470.6 116.9,474.6 126.4,479.3 131.1,473.0 137.4,474.6 142.4,482.5 149.5,476.1 155.8,465.1 161.3,445.3 165.3,435.1 171.6,431.9 177.9,431.1 181.9,428.7 185.8,439.8 190.6,458.0 194.5,474.2 200.0,467.4 206.4,462.7 209.5,460.3 214.2,458.0 218.2,452.4 222.1,459.5 230.0,468.2 234.8,461.9 241.1,449.3 249.0,439.0 256.9,444.5 263.2,444.5 271.1,433.5 279.0,426.4 286.3,443.7 291.1,454.8 295.8,457.2 302.1,454.8 306.9,467.4 311.6,465.1 316.3,462.7 321.1,458.0 327.4,458.8 333.7,462.7 338.5,469.8 343.2,468.2 347.9,460.3 354.2,461.1 359.0,456.4 363.7,465.9 368.5,462.7 374.8,466.7 379.5,473.0 387.4,482.5 393.7,476.9 400.1,473.0 403.2,461.9 408.0,477.7 411.1,480.1 415.9,474.6 420.0,471.4 423.2,461.9 429.5,450.9 435.0,437.4 439.0,439.8 443.7,453.2 450.0,474.6 454.0,454.8 457.9,445.3 461.9,436.6 467.4,438.2 472.1,432.7 476.9,438.2 480.8,449.3 484.8,461.9 489.5,465.9 494.2,461.9 499.0,458.0 505.3,466.7 511.6,480.1 514.8,483.2 518.7,483.2 524.3,461.9 527.4,446.9 530.6,435.8 538.5,430.6 544.8,432.7 549.5,435.8 554.3,430.3 560.0,427.9 571.1,438.2 579.0,441.4 586.9,446.1 593.2,453.2 597.9,465.1 602.3,483.2 607.4,479.3 613.7,476.1 620.0,457.2 626.4,438.2 631.1,436.3 635.8,435.1 642.1,431.1 648.5,431.6 654.8,431.9 661.1,430.3 665.1,433.2" fill="none" stroke="#0000FF" stroke-width="1"/>
<polyline points="0.0,448.5 6.3,447.7 11.8,446.1 15.0,443.7 19.0,453.2 26.9,452.1 31.6,452.8 41.1,452.8 47.4,449.3 52.1,450.1 56.9,451.6 62.4,455.6 66.4,454.8 71.1,449.3 79.0,448.5 88.5,446.1 90.0,443.0 93.2,450.1 95.6,456.4 101.1,456.4 107.4,454.8 112.2,456.4 116.9,460.3 126.4,460.7 134.3,460.3 140.0,465.4 146.3,465.9 152.6,464.3 157.4,461.9 162.1,454.0 166.9,454.8 173.2,453.2 181.1,452.1 185.8,456.4 193.7,455.6 203.2,456.4 207.9,457.2 211.1,454.8 214.2,459.1 217.4,457.2 222.1,459.1 228.5,460.0 233.2,460.7 237.9,455.6 244.3,454.0 250.6,453.2 256.9,452.4 266.4,451.6 274.3,449.3 280.0,447.7 286.3,445.8 291.1,447.7 295.8,446.1 302.1,446.4 305.3,454.8 308.4,456.4 311.6,455.3 316.3,455.6 321.1,457.2 327.4,457.2 330.6,455.6 335.3,461.1 340.0,457.5 349.5,456.4 354.2,459.5 357.4,456.9 365.3,456.9 374.8,457.5 377.9,461.9 382.7,465.9 389.0,466.3 393.7,464.3 398.5,464.8 401.6,460.3 404.8,467.4 408.0,474.6 412.7,473.0 415.9,468.2 420.0,466.7 427.9,464.3 434.2,462.7 438.2,460.7 442.1,465.1 448.4,466.7 451.6,465.9 454.0,455.6 461.1,456.4 467.4,455.6 473.7,454.0 478.5,456.4 486.4,456.9 494.2,457.2 499.0,457.2 503.7,462.7 511.6,465.4 517.9,468.5 524.3,460.3 530.6,457.5 540.1,455.6 546.4,455.6 551.1,450.1 560.0,450.1 566.3,451.6 575.0,446.9 582.1,448.5 590.0,448.5 594.0,453.2 597.9,459.5 607.4,460.0 616.9,459.5 620.0,456.4 626.4,455.6 631.1,454.0 639.0,453.2 643.7,447.7 651.6,446.1 654.8,444.2 661.1,444.5 666.2,446.9" fill="none" stroke="#0000CD" stroke-width="2.3" stroke-linejoin="round"/>
<g shape-rendering="crispEdges">
<line x1="0" y1="0.5" x2="886" y2="0.5" stroke="#000"/>
<line x1="843.5" y1="0" x2="843.5" y2="423" stroke="#000"/>
<line x1="0" y1="422.5" x2="844" y2="422.5" stroke="#000"/>
<line x1="0" y1="424.5" x2="844" y2="424.5" stroke="#000"/>
<line x1="843.5" y1="424" x2="843.5" y2="493" stroke="#000"/>
<line x1="0" y1="492.5" x2="844" y2="492.5" stroke="#000"/>
<line x1="844" y1="23.5" x2="846" y2="23.5" stroke="#000"/>
<line x1="844" y1="56.5" x2="846" y2="56.5" stroke="#000"/>
<line x1="844" y1="89.5" x2="846" y2="89.5" stroke="#000"/>
<line x1="844" y1="122.5" x2="846" y2="122.5" stroke="#000"/>
<line x1="844" y1="155.5" x2="846" y2="155.5" stroke="#000"/>
<line x1="844" y1="188.5" x2="846" y2="188.5" stroke="#000"/>
<line x1="844" y1="221.5" x2="846" y2="221.5" stroke="#000"/>
<line x1="844" y1="254.5" x2="846" y2="254.5" stroke="#000"/>
<line x1="844" y1="287.5" x2="846" y2="287.5" stroke="#000"/>
<line x1="844" y1="320.5" x2="846" y2="320.5" stroke="#000"/>
<line x1="844" y1="353.5" x2="846" y2="353.5" stroke="#000"/>
<line x1="844" y1="386.5" x2="846" y2="386.5" stroke="#000"/>
<line x1="844" y1="419.5" x2="846" y2="419.5" stroke="#000"/>
<line x1="844" y1="426.5" x2="846" y2="426.5" stroke="#000"/>
<line x1="62.5" y1="493" x2="62.5" y2="497" stroke="#000"/>
<line x1="126.5" y1="493" x2="126.5" y2="497" stroke="#000"/>
<line x1="190.5" y1="493" x2="190.5" y2="497" stroke="#000"/>
<line x1="254.5" y1="493" x2="254.5" y2="497" stroke="#000"/>
<line x1="318.5" y1="493" x2="318.5" y2="497" stroke="#000"/>
<line x1="382.5" y1="493" x2="382.5" y2="497" stroke="#000"/>
<line x1="446.5" y1="493" x2="446.5" y2="497" stroke="#000"/>
<line x1="510.5" y1="493" x2="510.5" y2="497" stroke="#000"/>
<line x1="574.5" y1="493" x2="574.5" y2="497" stroke="#000"/>
<line x1="638.5" y1="493" x2="638.5" y2="497" stroke="#000"/>
</g>
<g font-family="Liberation Sans, Arial, sans-serif" font-size="9.9px">
<text transform="translate(849.00,27.40) scale(0.93,1)" fill="#000" stroke="#000" stroke-width="0.18">47531.0</text>
<text transform="translate(849.00,59.40) scale(0.93,1)" fill="#000" stroke="#000" stroke-width="0.18">47351.0</text>
<text transform="translate(849.00,92.40) scale(0.93,1)" fill="#000" stroke="#000" stroke-width="0.18">47171.0</text>
<text transform="translate(849.00,125.40) scale(0.93,1)" fill="#000" stroke="#000" stroke-width="0.18">46991.0</text>
<text transform="translate(849.00,158.40) scale(0.93,1)" fill="#000" stroke="#000" stroke-width="0.18">46811.0</text>
<text transform="translate(849.00,191.40) scale(0.93,1)" fill="#000" stroke="#000" stroke-width="0.18">46626.0</text>
<text transform="translate(849.00,224.40) scale(0.93,1)" fill="#000" stroke="#000" stroke-width="0.18">46446.0</text>
<text transform="translate(849.00,257.40) scale(0.93,1)" fill="#000" stroke="#000" stroke-width="0.18">46266.0</text>
<text transform="translate(849.00,290.40) scale(0.93,1)" fill="#000" stroke="#000" stroke-width="0.18">46086.0</text>
<text transform="translate(849.00,323.40) scale(0.93,1)" fill="#000" stroke="#000" stroke-width="0.18">45901.0</text>
<text transform="translate(849.00,356.40) scale(0.93,1)" fill="#000" stroke="#000" stroke-width="0.18">45721.0</text>
<text transform="translate(849.00,389.40) scale(0.93,1)" fill="#000" stroke="#000" stroke-width="0.18">45541.0</text>
<text transform="translate(849.00,422.40) scale(0.93,1)" fill="#000" stroke="#000" stroke-width="0.18">45361.0</text>
<rect x="845" y="15" width="41" height="11" fill="#778899"/>
<text transform="translate(849.00,24.40) scale(0.93,1)" fill="#fff">47545.0</text>
<rect x="845" y="106" width="41" height="11" fill="#778899"/>
<text transform="translate(849.00,115.40) scale(0.93,1)" fill="#fff">47045.0</text>
<rect x="845" y="171" width="41" height="11" fill="#778899"/>
<text transform="translate(849.00,180.40) scale(0.93,1)" fill="#fff">46690.0</text>
<rect x="845" y="252" width="41" height="11" fill="#778899"/>
<text transform="translate(849.00,261.40) scale(0.93,1)" fill="#fff">46245.0</text>
<rect x="845" y="306" width="41" height="11" fill="#778899"/>
<text transform="translate(849.00,315.40) scale(0.93,1)" fill="#fff">45950.0</text>
<rect x="845" y="41" width="41" height="11" fill="#000"/>
<text transform="translate(849.00,49.40) scale(0.93,1)" fill="#fff">47407.1</text>
<text transform="translate(847.00,434.60) scale(0.93,1)" fill="#000" stroke="#000" stroke-width="0.18">117.135</text>
<text transform="translate(847.50,441.00) scale(0.93,1)" fill="#000" stroke="#000" stroke-width="0.18">80</text>
<text transform="translate(847.50,462.00) scale(0.93,1)" fill="#000" stroke="#000" stroke-width="0.18">0.00</text>
<text transform="translate(847.50,481.50) scale(0.93,1)" fill="#000" stroke="#000" stroke-width="0.18">20</text>
<text transform="translate(846.60,488.70) scale(0.93,1)" fill="#000" stroke="#000" stroke-width="0.18">-115.074</text>
<rect x="845" y="440" width="12" height="10" fill="#778899"/>
<text transform="translate(846.80,448.60) scale(0.93,1)" fill="#fff">70</text>
<rect x="845" y="453" width="12" height="10" fill="#778899"/>
<text transform="translate(846.80,461.60) scale(0.93,1)" fill="#fff">50</text>
<rect x="845" y="467" width="12" height="10" fill="#778899"/>
<text transform="translate(846.80,475.60) scale(0.93,1)" fill="#fff">30</text>
<rect x="845" y="463" width="7" height="2" fill="#778899"/>
<polygon points="1,7 8,7 4.5,11" fill="#000"/>
<text transform="translate(13.30,12.30) scale(0.93,1)" fill="#000" stroke="#000" stroke-width="0.18">#INDU,H4</text>
<text transform="translate(66.20,12.30) scale(0.93,1)" fill="#000" stroke="#000" stroke-width="0.18">47469.4 47479.8 47405.0 47407.1</text>
<text transform="translate(2.00,437.30) scale(0.93,1)" fill="#000" stroke="#000" stroke-width="0.18">OsMA(12,26,9) 80.484</text>
<text transform="translate(103.00,437.30) scale(0.93,1)" fill="#000" stroke="#000" stroke-width="0.18">Stoch(5,3,3) 85.9304 89.9902</text>
<text transform="translate(231.50,437.30) scale(0.93,1)" fill="#000" stroke="#000" stroke-width="0.18">RSI(14) 67.7326</text>
<text transform="translate(-3.60,505.00) scale(0.93,1)" fill="#000" stroke="#000" stroke-width="0.18">17 Sep 2025</text>
<text transform="translate(61.50,505.00) scale(0.93,1)" fill="#000" stroke="#000" stroke-width="0.18">22 Sep 09:00</text>
<text transform="translate(125.50,505.00) scale(0.93,1)" fill="#000" stroke="#000" stroke-width="0.18">25 Sep 01:00</text>
<text transform="translate(189.50,505.00) scale(0.93,1)" fill="#000" stroke="#000" stroke-width="0.18">29 Sep 17:00</text>
<text transform="translate(253.50,505.00) scale(0.93,1)" fill="#000" stroke="#000" stroke-width="0.18">2 Oct 09:00</text>
<text transform="translate(317.50,505.00) scale(0.93,1)" fill="#000" stroke="#000" stroke-width="0.18">7 Oct 01:00</text>
<text transform="translate(381.50,505.00) scale(0.93,1)" fill="#000" stroke="#000" stroke-width="0.18">9 Oct 17:00</text>
<text transform="translate(445.50,505.00) scale(0.93,1)" fill="#000" stroke="#000" stroke-width="0.18">14 Oct 09:00</text>
<text transform="translate(509.50,505.00) scale(0.93,1)" fill="#000" stroke="#000" stroke-width="0.18">17 Oct 01:00</text>
<text transform="translate(573.50,505.00) scale(0.93,1)" fill="#000" stroke="#000" stroke-width="0.18">21 Oct 17:00</text>
<text transform="translate(637.50,505.00) scale(0.93,1)" fill="#000" stroke="#000" stroke-width="0.18">24 Oct 09:00</text>
</g>
</svg>
</body></html>
